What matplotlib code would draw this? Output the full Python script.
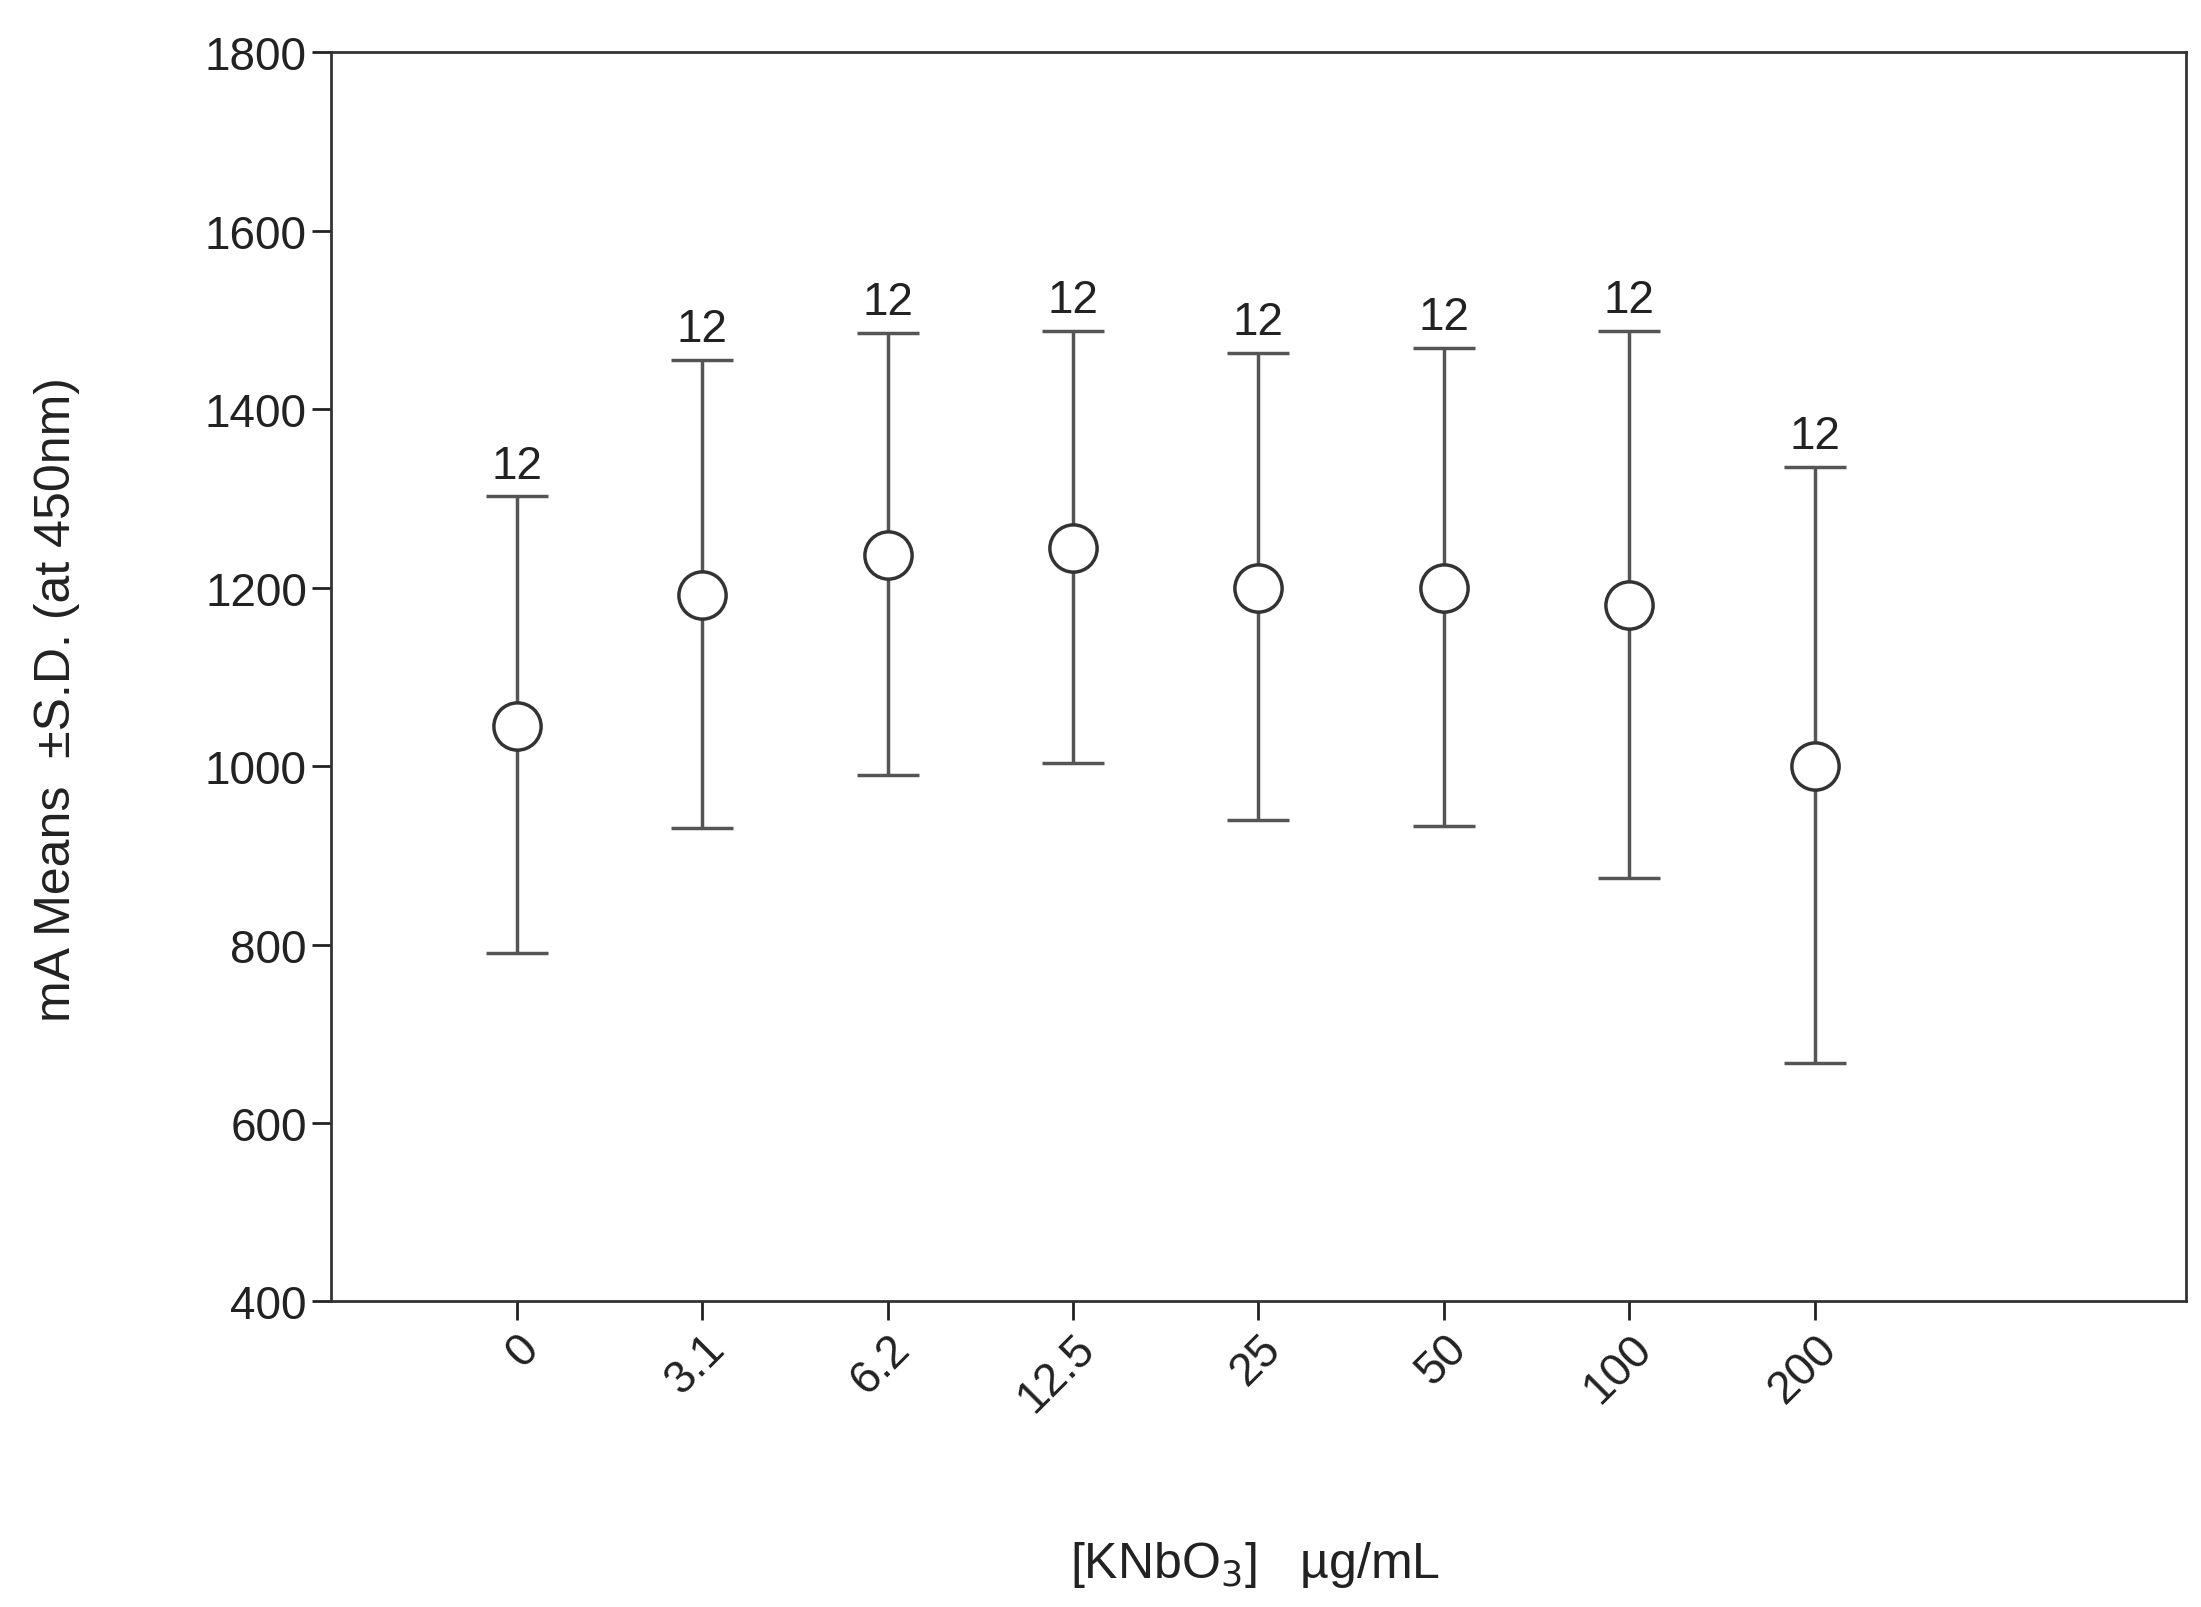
import matplotlib
matplotlib.use("Agg")
import matplotlib.pyplot as plt

categories = ["0", "3.1", "6.2", "12.5", "25", "50", "100", "200"]
means = [1045, 1192, 1237, 1244, 1200, 1200, 1180, 1000]
upper = [1302, 1455, 1485, 1488, 1463, 1468, 1488, 1335]
lower = [790, 930, 990, 1003, 940, 933, 875, 667]
counts = [12, 12, 12, 12, 12, 12, 12, 12]

plt.rcParams['font.family'] = ['Liberation Sans', 'DejaVu Sans']
fig = plt.figure(figsize=(22.01, 16.08), dpi=100)
ax = fig.add_axes([0.1505, 0.19, 0.8425, 0.777])
x = list(range(1, len(categories) + 1))
yerr = [[m - l for m, l in zip(means, lower)], [u - m for m, u in zip(means, upper)]]
ax.errorbar(x, means, yerr=yerr, fmt='o', color='#555555', ecolor='#555555',
            elinewidth=2.5, capsize=22, capthick=2.5, markersize=34,
            markerfacecolor='white', markeredgecolor='#333333', markeredgewidth=2.5)
for xi, u, c in zip(x, upper, counts):
    ax.text(xi, u + 10, str(c), ha='center', va='bottom', fontsize=33, color='#222222')
ax.set_xlim(0, 10)
ax.set_ylim(400, 1800)
ax.set_yticks(range(400, 1801, 200))
ax.set_xticks(x)
ax.set_xticklabels(categories, rotation=45, ha='right', rotation_mode='anchor')
ax.tick_params(labelsize=33, width=2, length=14, colors='#222222')
for s in ax.spines.values():
    s.set_linewidth(2)
    s.set_color('#333333')
fig.text(0.026, 0.565, "mA Means  \u00b1S.D. (at 450nm)", fontsize=36, rotation=90,
         ha='center', va='center', color='#222222')
fig.text(0.57, 0.027, "[KNbO$_3$]   \u00b5g/mL", fontsize=36, ha='center', va='center',
         color='#222222')
fig.savefig("out.png", dpi=100)
